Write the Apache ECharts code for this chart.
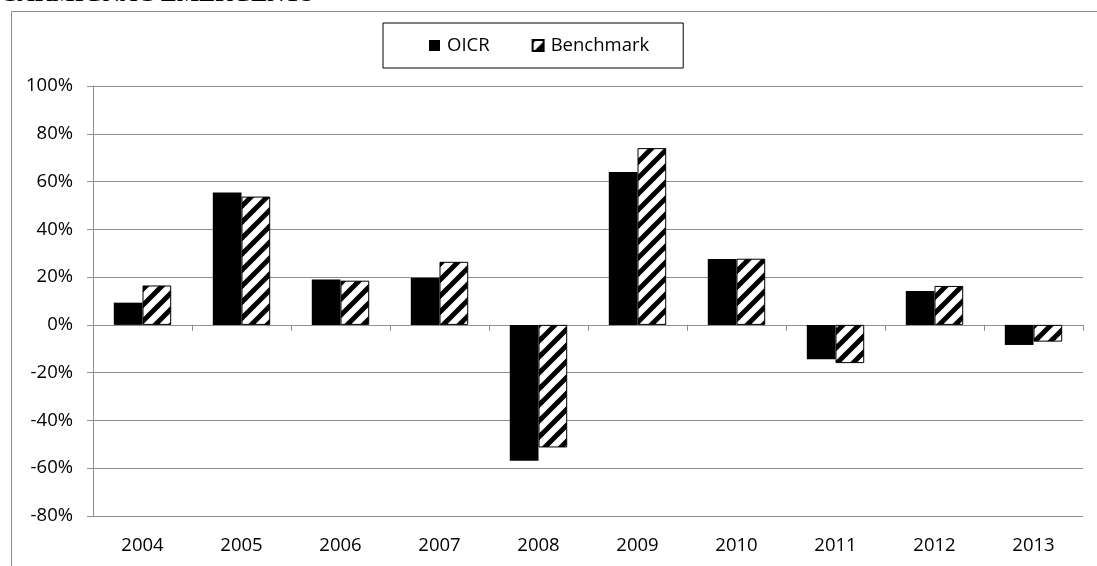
<!DOCTYPE html>
<html>
<head>
<meta charset="utf-8">
<style>
  html, body { margin: 0; padding: 0; background: #fff; }
  #chart { width: 1097px; height: 566px; }
</style>
<script src="https://cdn.jsdelivr.net/npm/echarts@6/dist/echarts.min.js"></script>
</head>
<body>
<div id="chart"></div>
<script>
// ---- data ----
const years = ['2004','2005','2006','2007','2008','2009','2010','2011','2012','2013'];
const oicr = [9.3, 55.4, 19.0, 19.7, -56.9, 64.0, 27.6, -14.4, 14.2, -8.4];
const benchmark = [16.5, 53.7, 18.5, 26.4, -51.3, 74.0, 27.7, -16.0, 16.3, -7.0];
const seriesNames = ['OICR', 'Benchmark'];
const titleText = 'CARMIGNAC EMERGENTS';

// ---- hatch pattern ----
function makeHatch() {
  const s = 16;
  const c = document.createElement('canvas');
  c.width = s; c.height = s;
  const g = c.getContext('2d');
  g.fillStyle = '#fff';
  g.fillRect(0, 0, s, s);
  g.strokeStyle = '#000';
  g.lineWidth = 5;
  g.lineCap = 'square';
  [[0, s, s, 0], [0, s * 2, s * 2, 0], [-s, s, s, -s]].forEach(function (l) {
    g.beginPath(); g.moveTo(l[0], l[1]); g.lineTo(l[2], l[3]); g.stroke();
  });
  return c;
}
const hatch = { image: makeHatch(), repeat: 'repeat' };

const font = '"Open Sans", "Liberation Sans", sans-serif';
const gridColor = '#8f8f8f';
const fs = 18.5;

const chart = echarts.init(document.getElementById('chart'), null, { renderer: 'canvas' });
chart.setOption({
  animation: false,
  backgroundColor: '#fff',
  textStyle: { fontFamily: font, color: '#000' },
  graphic: [
    { type: 'rect', left: 9, top: 9, silent: true,
      shape: { x: 0, y: 0, width: 1200, height: 700 },
      style: { fill: 'none', stroke: '#8a8a8a', lineWidth: 1 } },
    { type: 'text', left: 0, top: -17, silent: true,
      style: { text: titleText, font: 'bold 24px "Liberation Serif", serif', fill: '#000' } }
  ],
  legend: {
    left: 383, top: 23,
    data: seriesNames,
    orient: 'horizontal',
    icon: 'rect',
    padding: [13, 34, 13, 46],
    borderColor: '#000', borderWidth: 1,
    itemWidth: 11, itemHeight: 11, itemGap: 42,
    textStyle: { fontFamily: font, fontSize: fs, color: '#000', padding: [0, 0, 0, 2] }
  },
  grid: { left: 93, right: 14, top: 86, bottom: 50, containLabel: false },
  xAxis: [
    {
      type: 'category', data: years, position: 'bottom',
      axisLine: { show: true, onZero: true, lineStyle: { color: gridColor, width: 1 } },
      axisTick: { show: true, inside: false, length: 6, alignWithLabel: false, interval: 0, lineStyle: { color: gridColor } },
      axisLabel: { show: false },
      splitLine: { show: false }
    },
    {
      type: 'category', data: years, position: 'bottom',
      axisLine: { show: false, onZero: false },
      axisTick: { show: false },
      axisLabel: { show: true, margin: 20, fontSize: fs, color: '#000', fontFamily: font, interval: 0 },
      splitLine: { show: false }
    }
  ],
  yAxis: {
    type: 'value', min: -80, max: 100, interval: 20,
    axisLine: { show: true, lineStyle: { color: gridColor, width: 1 } },
    axisTick: { show: true, inside: false, length: 6, lineStyle: { color: gridColor } },
    axisLabel: { formatter: '{value}%', fontSize: fs, color: '#000', margin: 20, fontFamily: font },
    splitLine: { show: true, lineStyle: { color: gridColor, width: 1 } }
  },
  series: [
    {
      name: seriesNames[0], type: 'bar', xAxisIndex: 0, data: oicr,
      barGap: '0%', barCategoryGap: '42%',
      itemStyle: { color: '#000' }
    },
    {
      name: seriesNames[1], type: 'bar', xAxisIndex: 0, data: benchmark,
      barGap: '0%', barCategoryGap: '42%',
      itemStyle: { color: hatch, borderColor: '#000', borderWidth: 1 }
    }
  ]
});
</script>
</body>
</html>
